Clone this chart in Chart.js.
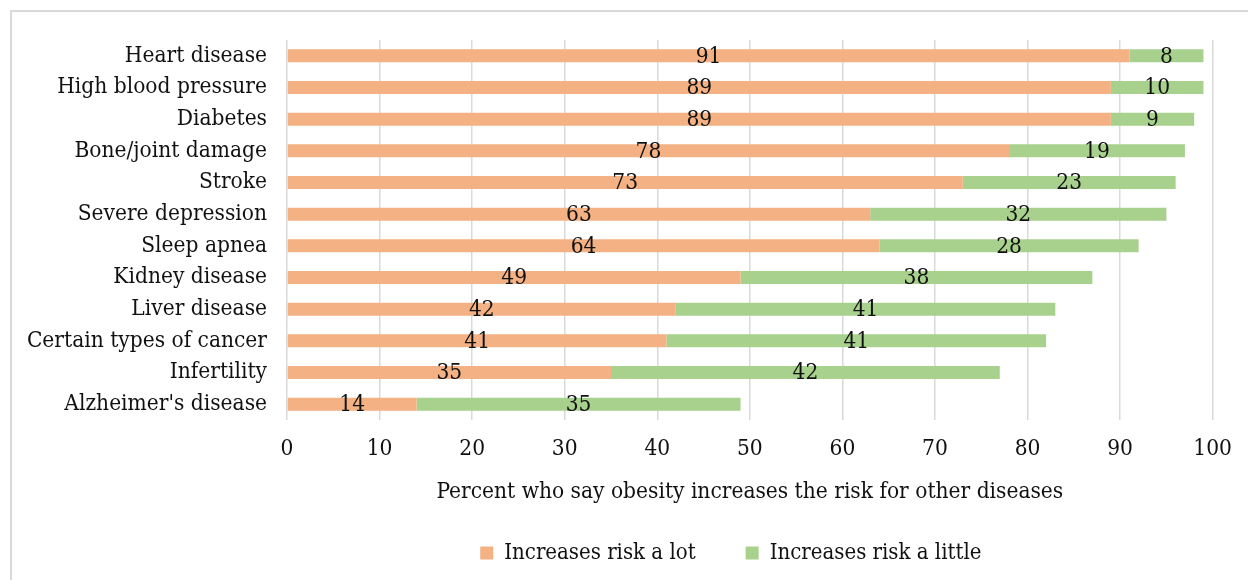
<!DOCTYPE html>
<html>
<head>
<meta charset="utf-8">
<script src="https://cdn.jsdelivr.net/npm/chart.js@4.4.1/dist/chart.umd.min.js"></script>
<style>
  html, body { margin: 0; padding: 0; background: #fff; }
  #wrap { position: relative; width: 1248px; height: 580px; overflow: hidden; }
  #frame { position: absolute; left: 10px; top: 10px; width: 1400px; height: 800px;
           border-left: 2px solid #d9d9d9; border-top: 2px solid #d9d9d9; box-sizing: border-box; }
  canvas { position: absolute; left: 0; top: 0; }
</style>
</head>
<body>
<div id="wrap">
  <div id="frame"></div>
  <canvas id="chart" width="1248" height="580"></canvas>
</div>
<script>
const categories = [
  "Heart disease", "High blood pressure", "Diabetes", "Bone/joint damage", "Stroke",
  "Severe depression", "Sleep apnea", "Kidney disease", "Liver disease",
  "Certain types of cancer", "Infertility", "Alzheimer's disease"
];
const riskALot    = [91, 89, 89, 78, 73, 63, 64, 49, 42, 41, 35, 14];
const riskALittle = [ 8, 10,  9, 19, 23, 32, 28, 38, 41, 41, 42, 35];
const seriesNames = ["Increases risk a lot", "Increases risk a little"];
const xTicks = [0, 10, 20, 30, 40, 50, 60, 70, 80, 90, 100];
const axisTitle = "Percent who say obesity increases the risk for other diseases";

const FONT = "'DejaVu Serif Condensed', 'DejaVu Serif', serif";
const INK = "#111111";

// Writes each segment's value in the middle of its bar piece
const segmentLabels = {
  id: "segmentLabels",
  afterDatasetsDraw(chart) {
    const ctx = chart.ctx;
    ctx.save();
    ctx.font = "22.5px " + FONT;
    ctx.fillStyle = INK;
    ctx.textAlign = "center";
    ctx.textBaseline = "middle";
    chart.data.datasets.forEach((ds, di) => {
      const meta = chart.getDatasetMeta(di);
      meta.data.forEach((bar, i) => {
        const cx = (bar.x + bar.base) / 2;
        ctx.fillText(String(ds.data[i]), cx, bar.y + 1);
      });
    });
    ctx.restore();
  }
};

// Nudges the legend row so it sits under the middle of the figure
const legendShift = {
  id: "legendShift",
  afterLayout(chart) {
    const lg = chart.legend;
    if (lg) { lg.left -= 19; lg.right -= 19; }
  }
};

new Chart(document.getElementById("chart"), {
  type: "bar",
  data: {
    labels: categories,
    datasets: [
      { label: seriesNames[0], data: riskALot, backgroundColor: "#F4B183",
        barPercentage: 0.41, categoryPercentage: 1 },
      { label: seriesNames[1], data: riskALittle, backgroundColor: "#A9D18E",
        barPercentage: 0.41, categoryPercentage: 1 }
    ]
  },
  options: {
    indexAxis: "y",
    responsive: false,
    animation: false,
    layout: { padding: { top: 40, right: 35, left: 0, bottom: 6 } },
    scales: {
      x: {
        stacked: true,
        min: 0, max: 100,
        afterBuildTicks(scale) { scale.ticks = xTicks.map(v => ({ value: v })); },
        afterFit(scale) { scale.height = 72; },
        grid: { color: "#d9d9d9", lineWidth: 1.5, drawTicks: false },
        border: { display: false },
        ticks: { color: INK, padding: 16, font: { family: FONT, size: 22.5 } },
        title: { display: true, text: axisTitle, color: INK,
                 padding: { top: 0, bottom: -13.5 }, font: { family: FONT, size: 22.5 } }
      },
      y: {
        stacked: true,
        afterFit(scale) { scale.width = 287; },
        grid: { display: false, drawTicks: false },
        border: { display: false },
        ticks: { color: INK, padding: 20, font: { family: FONT, size: 22.5 } }
      }
    },
    plugins: {
      legend: {
        position: "bottom",
        fullSize: false,
        labels: { color: INK, boxWidth: 13, boxHeight: 13, padding: 50,
                  font: { family: FONT, size: 22 } }
      },
      tooltip: { enabled: false }
    }
  },
  plugins: [segmentLabels, legendShift]
});
</script>
</body>
</html>
